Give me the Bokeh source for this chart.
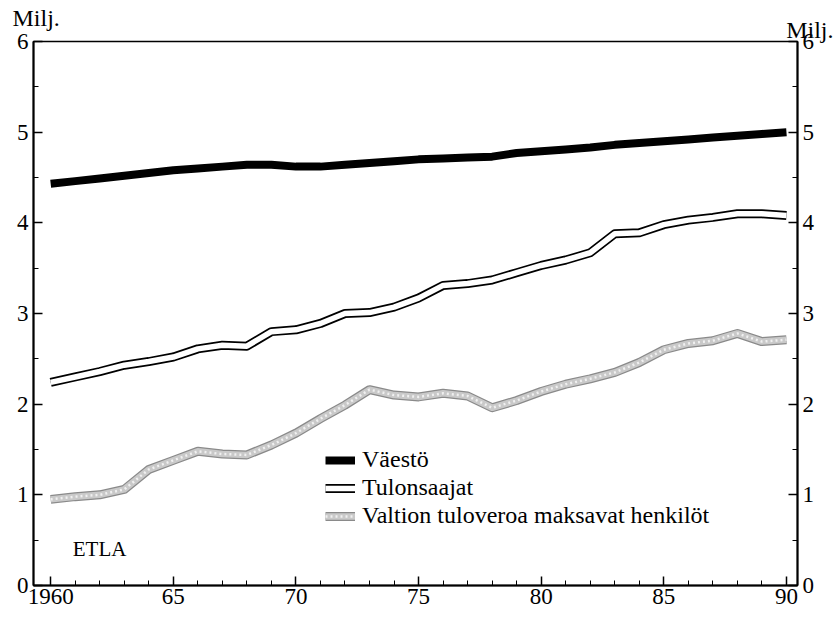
from bokeh.plotting import figure
from bokeh.models import (LinearAxis, FixedTicker, Legend, LegendItem, Label,
                          Range1d, ColumnDataSource, Title)
from bokeh.embed import file_html
from bokeh.resources import INLINE

# ---------------- data ----------------
years = list(range(1960, 1991))
vaesto = [4.43, 4.46, 4.49, 4.52, 4.55, 4.58, 4.60, 4.62, 4.64, 4.64,
          4.62, 4.62, 4.64, 4.66, 4.68, 4.70, 4.71, 4.72, 4.73, 4.77,
          4.79, 4.81, 4.83, 4.86, 4.88, 4.90, 4.92, 4.94, 4.96, 4.98, 5.00]
tulonsaajat = [2.24, 2.30, 2.36, 2.43, 2.47, 2.52, 2.61, 2.65, 2.64, 2.80,
               2.82, 2.89, 3.00, 3.01, 3.07, 3.17, 3.31, 3.33, 3.37, 3.45,
               3.53, 3.59, 3.67, 3.88, 3.89, 3.98, 4.03, 4.06, 4.10, 4.10, 4.08]
valtion = [0.95, 0.98, 1.00, 1.06, 1.28, 1.38, 1.48, 1.45, 1.44, 1.55,
           1.68, 1.84, 1.99, 2.16, 2.10, 2.08, 2.12, 2.09, 1.96, 2.04,
           2.14, 2.22, 2.28, 2.35, 2.46, 2.60, 2.67, 2.70, 2.78, 2.69, 2.71]

series_names = ["Väestö", "Tulonsaajat", "Valtion tuloveroa maksavat henkilöt"]
x_major = [1960, 1965, 1970, 1975, 1980, 1985, 1990]
x_major_labels = ["1960", "65", "70", "75", "80", "85", "90"]
x_minor = list(range(1960, 1991))
y_major = [0, 1, 2, 3, 4, 5, 6]
y_minor = [0.5, 1.5, 2.5, 3.5, 4.5, 5.5]
unit_label = "Milj."
source_label = "ETLA"

FONT = "Liberation Serif, Times New Roman, serif"

src = ColumnDataSource(dict(year=years, vaesto=vaesto,
                            tulonsaajat=tulonsaajat, valtion=valtion))

p = figure(width=835, height=620,
           x_range=Range1d(1959.3, 1990.45), y_range=Range1d(0, 6),
           output_backend="svg", toolbar_location=None,
           min_border_left=33, min_border_right=38,
           min_border_top=41, min_border_bottom=35)
p.xaxis.visible = False
p.yaxis.visible = False
p.xgrid.visible = False
p.ygrid.visible = False
p.outline_line_color = "black"
p.outline_line_width = 1.5
p.background_fill_color = "white"
p.border_fill_color = "white"


def style_axis(ax):
    ax.axis_line_color = "black"
    ax.axis_line_width = 2
    ax.major_tick_line_color = "black"
    ax.major_tick_line_width = 1.5
    ax.minor_tick_line_color = "black"
    ax.minor_tick_line_width = 1
    ax.major_label_text_font = FONT
    ax.major_label_text_font_size = "23px"
    ax.major_label_text_color = "black"


xb = LinearAxis(ticker=FixedTicker(ticks=x_major, minor_ticks=x_minor))
xb.major_label_overrides = {t: l for t, l in zip(x_major, x_major_labels)}
style_axis(xb)
xb.major_tick_in = 9
xb.major_tick_out = 0
xb.minor_tick_in = 5
xb.minor_tick_out = 0
xb.major_label_standoff = 3
p.add_layout(xb, "below")

for side in ("left", "right"):
    ya = LinearAxis(ticker=FixedTicker(ticks=y_major, minor_ticks=y_minor))
    style_axis(ya)
    ya.major_tick_in = 9
    ya.major_tick_out = 0
    ya.minor_tick_in = 5
    ya.minor_tick_out = 0
    ya.major_label_standoff = 5
    p.add_layout(ya, side)

# "Milj." unit labels above both axes
t_right = Title(text=unit_label, align="right", offset=-36, standoff=-3,
                text_font=FONT, text_font_size="24px",
                text_font_style="normal", text_color="black")
t_left = Title(text=unit_label, align="left", offset=-21, standoff=-29,
               text_font=FONT, text_font_size="24px",
               text_font_style="normal", text_color="black")
p.add_layout(t_right, "above")
p.add_layout(t_left, "above")

# Väestö: heavy black band
r_v = p.line("year", "vaesto", source=src, line_color="black",
             line_width=8, line_join="round")
# Tulonsaajat: outlined white band
r_t1 = p.line("year", "tulonsaajat", source=src, line_color="black",
              line_width=9, line_join="round")
r_t2 = p.line("year", "tulonsaajat", source=src, line_color="white",
              line_width=5.5, line_join="round")
# Valtion tuloveroa maksavat henkilöt: grey stippled band
r_g1 = p.line("year", "valtion", source=src, line_color="#8a8a8a",
              line_width=9, line_join="round")
r_g2 = p.line("year", "valtion", source=src, line_color="#c9c9c9",
              line_width=6.5, line_join="round")
r_g3 = p.line("year", "valtion", source=src, line_color="#f0f0f0",
              line_width=2.5, line_dash="2 3", line_join="round")

legend_rows = [
    (series_names[0], [r_v], 112),
    (series_names[1], [r_t1, r_t2], 84),
    (series_names[2], [r_g1, r_g2, r_g3], 56),
]
for label, rends, ypos in legend_rows:
    lg = Legend(items=[LegendItem(label=label, renderers=rends)],
                location=(292, ypos))
    lg.background_fill_alpha = 0
    lg.border_line_alpha = 0
    lg.padding = 0
    lg.margin = 0
    lg.spacing = 0
    lg.glyph_width = 30
    lg.glyph_height = 20
    lg.label_height = 20
    lg.label_standoff = 7
    lg.label_text_font = FONT
    lg.label_text_font_size = "24px"
    lg.label_text_color = "black"
    p.add_layout(lg, "center")

p.add_layout(Label(x=1960.9, y=0.27, text=source_label, text_font=FONT,
                   text_font_size="21px", text_align="left",
                   text_baseline="bottom", text_color="black"))

open("out.html", "w").write(file_html(p, INLINE))
